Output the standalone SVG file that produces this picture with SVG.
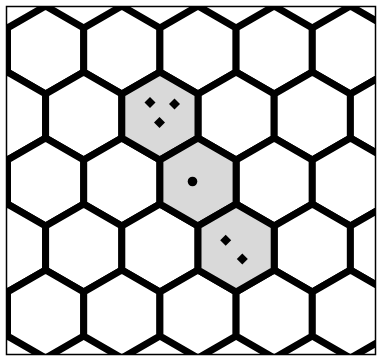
<svg xmlns="http://www.w3.org/2000/svg" xmlns:xlink="http://www.w3.org/1999/xlink" width="380" height="358" viewBox="0 0 380 358">
  <style>
    .cell { fill: #ffffff; stroke: #000000; stroke-width: 7; stroke-linejoin: miter; }
    .shaded { fill: #d9d9d9; stroke: #000000; stroke-width: 7; stroke-linejoin: miter; }
    .dot { fill: #000000; }
    .frame { fill: none; stroke: #000000; stroke-width: 1.5; }
  </style>
  <defs>
    <polygon id="hex" points="0,-44 38.1,-22 38.1,22 0,44 -38.1,22 -38.1,-22"/>
    <path id="diamond" d="M0,-5.5 L5.5,0 L0,5.5 L-5.5,0 Z"/>
    <clipPath id="clip">
      <rect x="6.5" y="6.5" width="369" height="348"/>
    </clipPath>
  </defs>
  <rect x="0" y="0" width="380" height="358" fill="#ffffff"/>
  <g id="grid" clip-path="url(#clip)">
    <g id="row0" class="cell">
      <use xlink:href="#hex" x="-30.6" y="50"/>
      <use xlink:href="#hex" x="45.6" y="50"/>
      <use xlink:href="#hex" x="121.8" y="50"/>
      <use xlink:href="#hex" x="198" y="50"/>
      <use xlink:href="#hex" x="274.2" y="50"/>
      <use xlink:href="#hex" x="350.4" y="50"/>
      <use xlink:href="#hex" x="426.6" y="50"/>
    </g>
    <g id="row1" class="cell">
      <use xlink:href="#hex" x="7.5" y="116"/>
      <use xlink:href="#hex" x="83.7" y="116"/>
      <use xlink:href="#hex" x="236.1" y="116"/>
      <use xlink:href="#hex" x="312.3" y="116"/>
      <use xlink:href="#hex" x="388.5" y="116"/>
    </g>
    <g id="row2" class="cell">
      <use xlink:href="#hex" x="-30.6" y="182"/>
      <use xlink:href="#hex" x="45.6" y="182"/>
      <use xlink:href="#hex" x="121.8" y="182"/>
      <use xlink:href="#hex" x="274.2" y="182"/>
      <use xlink:href="#hex" x="350.4" y="182"/>
      <use xlink:href="#hex" x="426.6" y="182"/>
    </g>
    <g id="row3" class="cell">
      <use xlink:href="#hex" x="7.5" y="248"/>
      <use xlink:href="#hex" x="83.7" y="248"/>
      <use xlink:href="#hex" x="159.9" y="248"/>
      <use xlink:href="#hex" x="312.3" y="248"/>
      <use xlink:href="#hex" x="388.5" y="248"/>
    </g>
    <g id="row4" class="cell">
      <use xlink:href="#hex" x="-30.6" y="314"/>
      <use xlink:href="#hex" x="45.6" y="314"/>
      <use xlink:href="#hex" x="121.8" y="314"/>
      <use xlink:href="#hex" x="198" y="314"/>
      <use xlink:href="#hex" x="274.2" y="314"/>
      <use xlink:href="#hex" x="350.4" y="314"/>
      <use xlink:href="#hex" x="426.6" y="314"/>
    </g>
    <g id="cell-a">
      <use xlink:href="#hex" class="shaded" x="159.9" y="116"/>
      <use xlink:href="#diamond" class="dot" x="150" y="102.5"/>
      <use xlink:href="#diamond" class="dot" x="174.5" y="104"/>
      <use xlink:href="#diamond" class="dot" x="159.5" y="122.5"/>
    </g>
    <g id="cell-b">
      <use xlink:href="#hex" class="shaded" x="198" y="182"/>
      <circle class="dot" cx="192.5" cy="181.5" r="4.8"/>
    </g>
    <g id="cell-c">
      <use xlink:href="#hex" class="shaded" x="236.1" y="248"/>
      <use xlink:href="#diamond" class="dot" x="225.7" y="240.3"/>
      <use xlink:href="#diamond" class="dot" x="242.3" y="259"/>
    </g>
  </g>
  <rect id="frame" class="frame" x="6.5" y="6.5" width="369" height="348"/>
</svg>
